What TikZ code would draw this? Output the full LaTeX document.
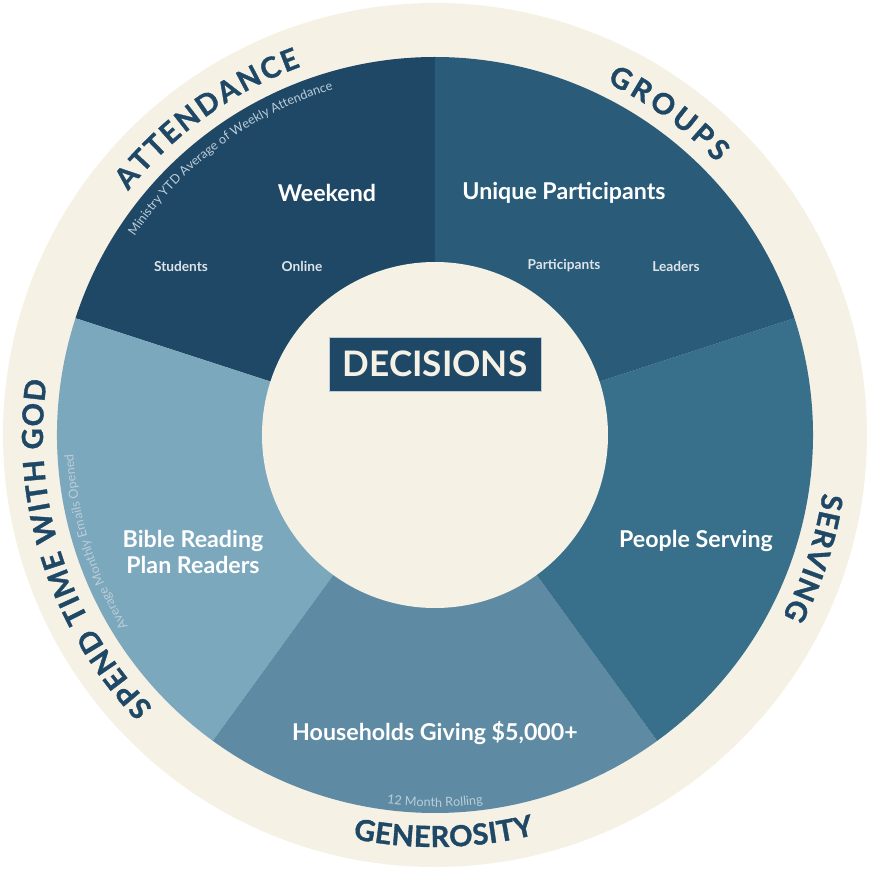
\documentclass[tikz,border=0pt]{standalone}
\usepackage{fontspec}
\setmainfont{Lato}
\newfontfamily\heavyfont{Lato}[BoldFeatures={FakeBold=1.2}]
\usetikzlibrary{decorations.text}

\definecolor{navy}{HTML}{1E4866}
\definecolor{grpblue}{HTML}{2A5B78}
\definecolor{srvblue}{HTML}{386F8A}
\definecolor{genblue}{HTML}{5E8BA3}
\definecolor{bibblue}{HTML}{7BA8BD}
\definecolor{cream}{HTML}{F6F1E5}
\definecolor{notecol}{HTML}{BCCDD9}
\definecolor{subcol}{HTML}{DCE4EA}

\newcommand{\ringfont}{\heavyfont\fontsize{16.5}{16.5}\selectfont\bfseries}
\newcommand{\notefont}{\fontsize{7.2}{7.2}\selectfont}

\begin{document}
\begin{tikzpicture}[x=0.02cm, y=0.02cm,
    bigtext/.style={text=white, font=\fontsize{13.2}{15}\selectfont\bfseries, align=center},
    subtext/.style={text=subcol, font=\fontsize{7.8}{8}\selectfont\bfseries},
    ringtext/.style={decorate, decoration={text along path, text align={fit to path}, text color=navy, text={|\ringfont|#1}}},
    notetext/.style={decorate, decoration={text along path, text align=center, text color=notecol, text={|\notefont|#1}}}]
    \useasboundingbox (-435,-434) rectangle (438,435);

    % outer ring
    \fill[cream] (0,0) circle (432);

    % the five sectors
    \fill[navy] (0,0) -- (90:378) arc (90:162:378) -- cycle;
    \fill[bibblue] (0,0) -- (162:378) arc (162:234:378) -- cycle;
    \fill[genblue] (0,0) -- (234:378) arc (234:306:378) -- cycle;
    \fill[srvblue] (0,0) -- (306:378) arc (306:378:378) -- cycle;
    \fill[grpblue] (0,0) -- (18:378) arc (18:90:378) -- cycle;

    % centre disc
    \fill[cream] (0,0) circle (173);
    \node[fill=navy, draw=notecol, line width=0.3pt, text=cream, font=\fontsize{20}{20}\selectfont\bfseries,
          minimum width=4.24cm, minimum height=1.08cm] (decisions) at (0,71) {DECISIONS};

    % labels round the ring
    \path[ringtext=ATTENDANCE] (141.5:392) arc (141.5:110:392);
    \path[ringtext=GROUPS] (64:392) arc (64:44:392);
    \path[ringtext=SERVING] (-8.5:392) arc (-8.5:-27.5:392);
    \path[ringtext=GENEROSITY] (258.5:412) arc (258.5:284:412);
    \path[ringtext=SPEND TIME WITH GOD] (224:392) arc (224:172:392);

    % small notes along the edge
    \path[notetext=Ministry YTD Average of Weekly Attendance] (156:360) arc (156:97:360);
    \path[notetext=Average Monthly Emails Opened] (222:362) arc (222:173:362);
    \path[notetext=12 Month Rolling] (255:372) arc (255:285:372);

    % sector texts
    \node[bigtext] (weekend) at (-108,242) {Weekend};
    \node[bigtext] (unique) at (129,242) {Unique Participants};
    \node[subtext] (students) at (-254,169) {Students};
    \node[subtext] (online) at (-133,169) {Online};
    \node[subtext] (partic) at (129,169) {Participants};
    \node[subtext] (leaders) at (241,169) {Leaders};
    \node[bigtext] (bible) at (-242,-117) {Bible Reading\\Plan Readers};
    \node[bigtext] (serving) at (261,-106) {People Serving};
    \node[bigtext] (giving) at (0,-298) {Households Giving \$5,000+};
\end{tikzpicture}
\end{document}
